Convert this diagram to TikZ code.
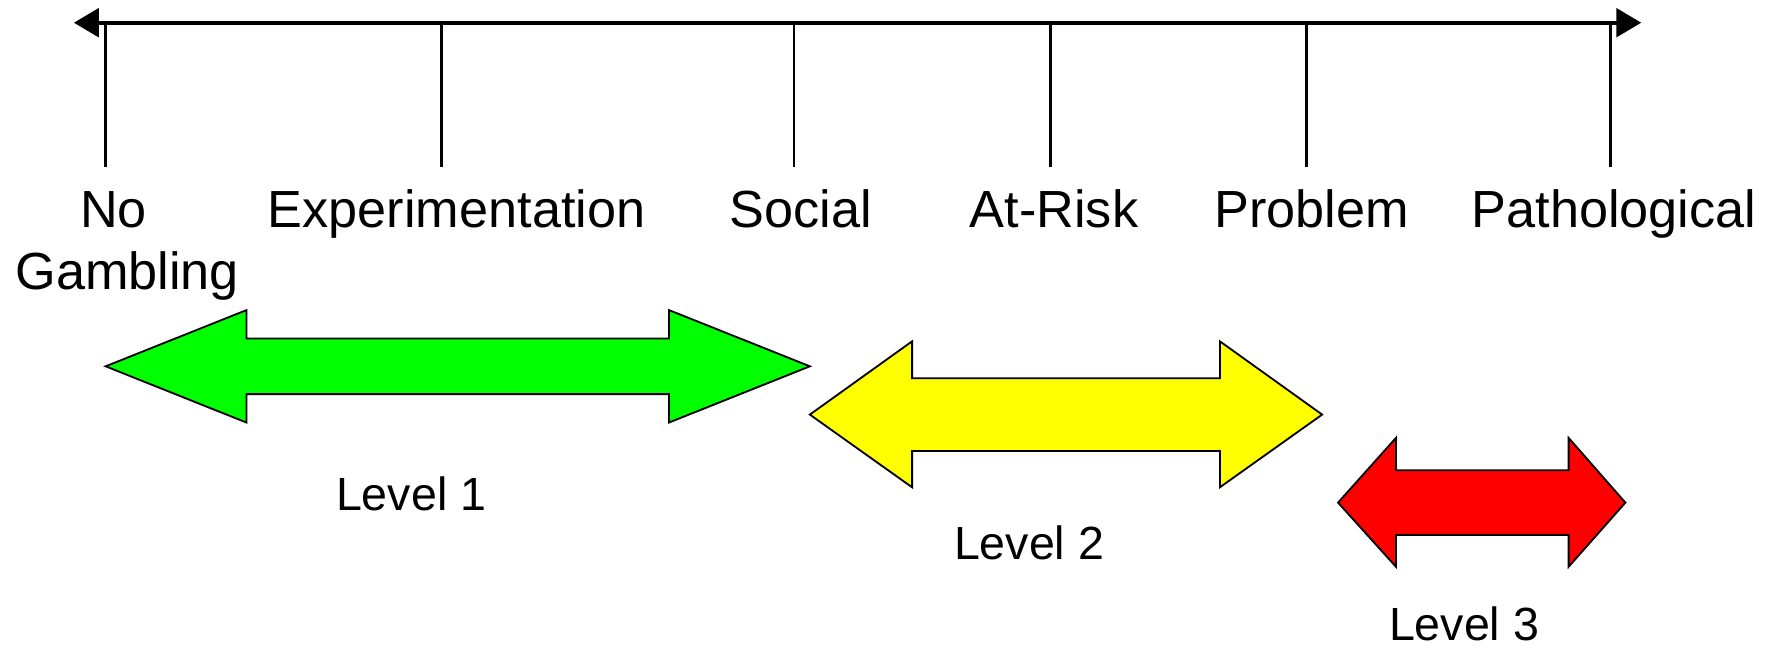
\documentclass[tikz,border=0pt]{standalone}
\usepackage{fontspec}
\setmainfont{Liberation Sans}
\usetikzlibrary{arrows.meta}
\definecolor{lvlgreen}{RGB}{0,255,0}
\definecolor{lvlyellow}{RGB}{255,255,0}
\definecolor{lvlred}{RGB}{255,0,0}
\begin{document}
\begin{tikzpicture}[x=1pt,y=-1pt,
  axisline/.style={line width=3.6pt,{Triangle[length=22pt 0 0,width=25pt 0 0]}-{Triangle[length=22pt 0 0,width=25pt 0 0]}},
  tickline/.style={line width=2.4pt},
  stagelabel/.style={anchor=base,inner sep=0pt,font=\fontsize{46}{55}\selectfont},
  levellabel/.style={anchor=base,inner sep=0pt,font=\fontsize{41}{50}\selectfont},
  levelarrow/.style={draw=black,line width=1.6pt,line join=miter}]
\useasboundingbox (0,0) rectangle (1568,571);
% axis
\coordinate (axL) at (65,20);
\coordinate (axR) at (1445,20);
\draw[axisline] (axL) -- (axR);
% ticks
\foreach \n/\x in {t1/93,t2/389,t3/699,t4/925,t5/1150,t6/1418}{
  \coordinate (\n top) at (\x,20);
  \coordinate (\n bot) at (\x,147);
  \draw[tickline] (\n top) -- (\n bot);
}
% stage labels
\node[stagelabel,align=center] (nogamb) at (112,255) {No\hspace*{24pt}\\Gambling};
\node[stagelabel] (exper) at (402,200) {Experimentation};
\node[stagelabel] (social) at (705,200) {Social};
\node[stagelabel] (atrisk) at (928,200) {At-Risk};
\node[stagelabel] (problem) at (1155,200) {Problem};
\node[stagelabel] (patho) at (1421,200) {Pathological};
% level arrows
\draw[levelarrow,fill=lvlgreen] (93,322.5) -- (217,273) -- (217,298) -- (589,298) -- (589,273)
  -- (713,322.5) -- (589,372) -- (589,347) -- (217,347) -- (217,372) -- cycle;
\draw[levelarrow,fill=lvlyellow] (713,365) -- (803,300.5) -- (803,333) -- (1074,333) -- (1074,300.5)
  -- (1164,365) -- (1074,429) -- (1074,397) -- (803,397) -- (803,429) -- cycle;
\draw[levelarrow,fill=lvlred] (1178,442.5) -- (1229,385.5) -- (1229,414) -- (1381,414) -- (1381,385.5)
  -- (1431,442.5) -- (1381,499) -- (1381,471) -- (1229,471) -- (1229,499) -- cycle;
% level labels
\node[levellabel] (lvl1) at (362,449) {Level 1};
\node[levellabel] (lvl2) at (906,493) {Level 2};
\node[levellabel] (lvl3) at (1289,564) {Level 3};
\end{tikzpicture}
\end{document}
